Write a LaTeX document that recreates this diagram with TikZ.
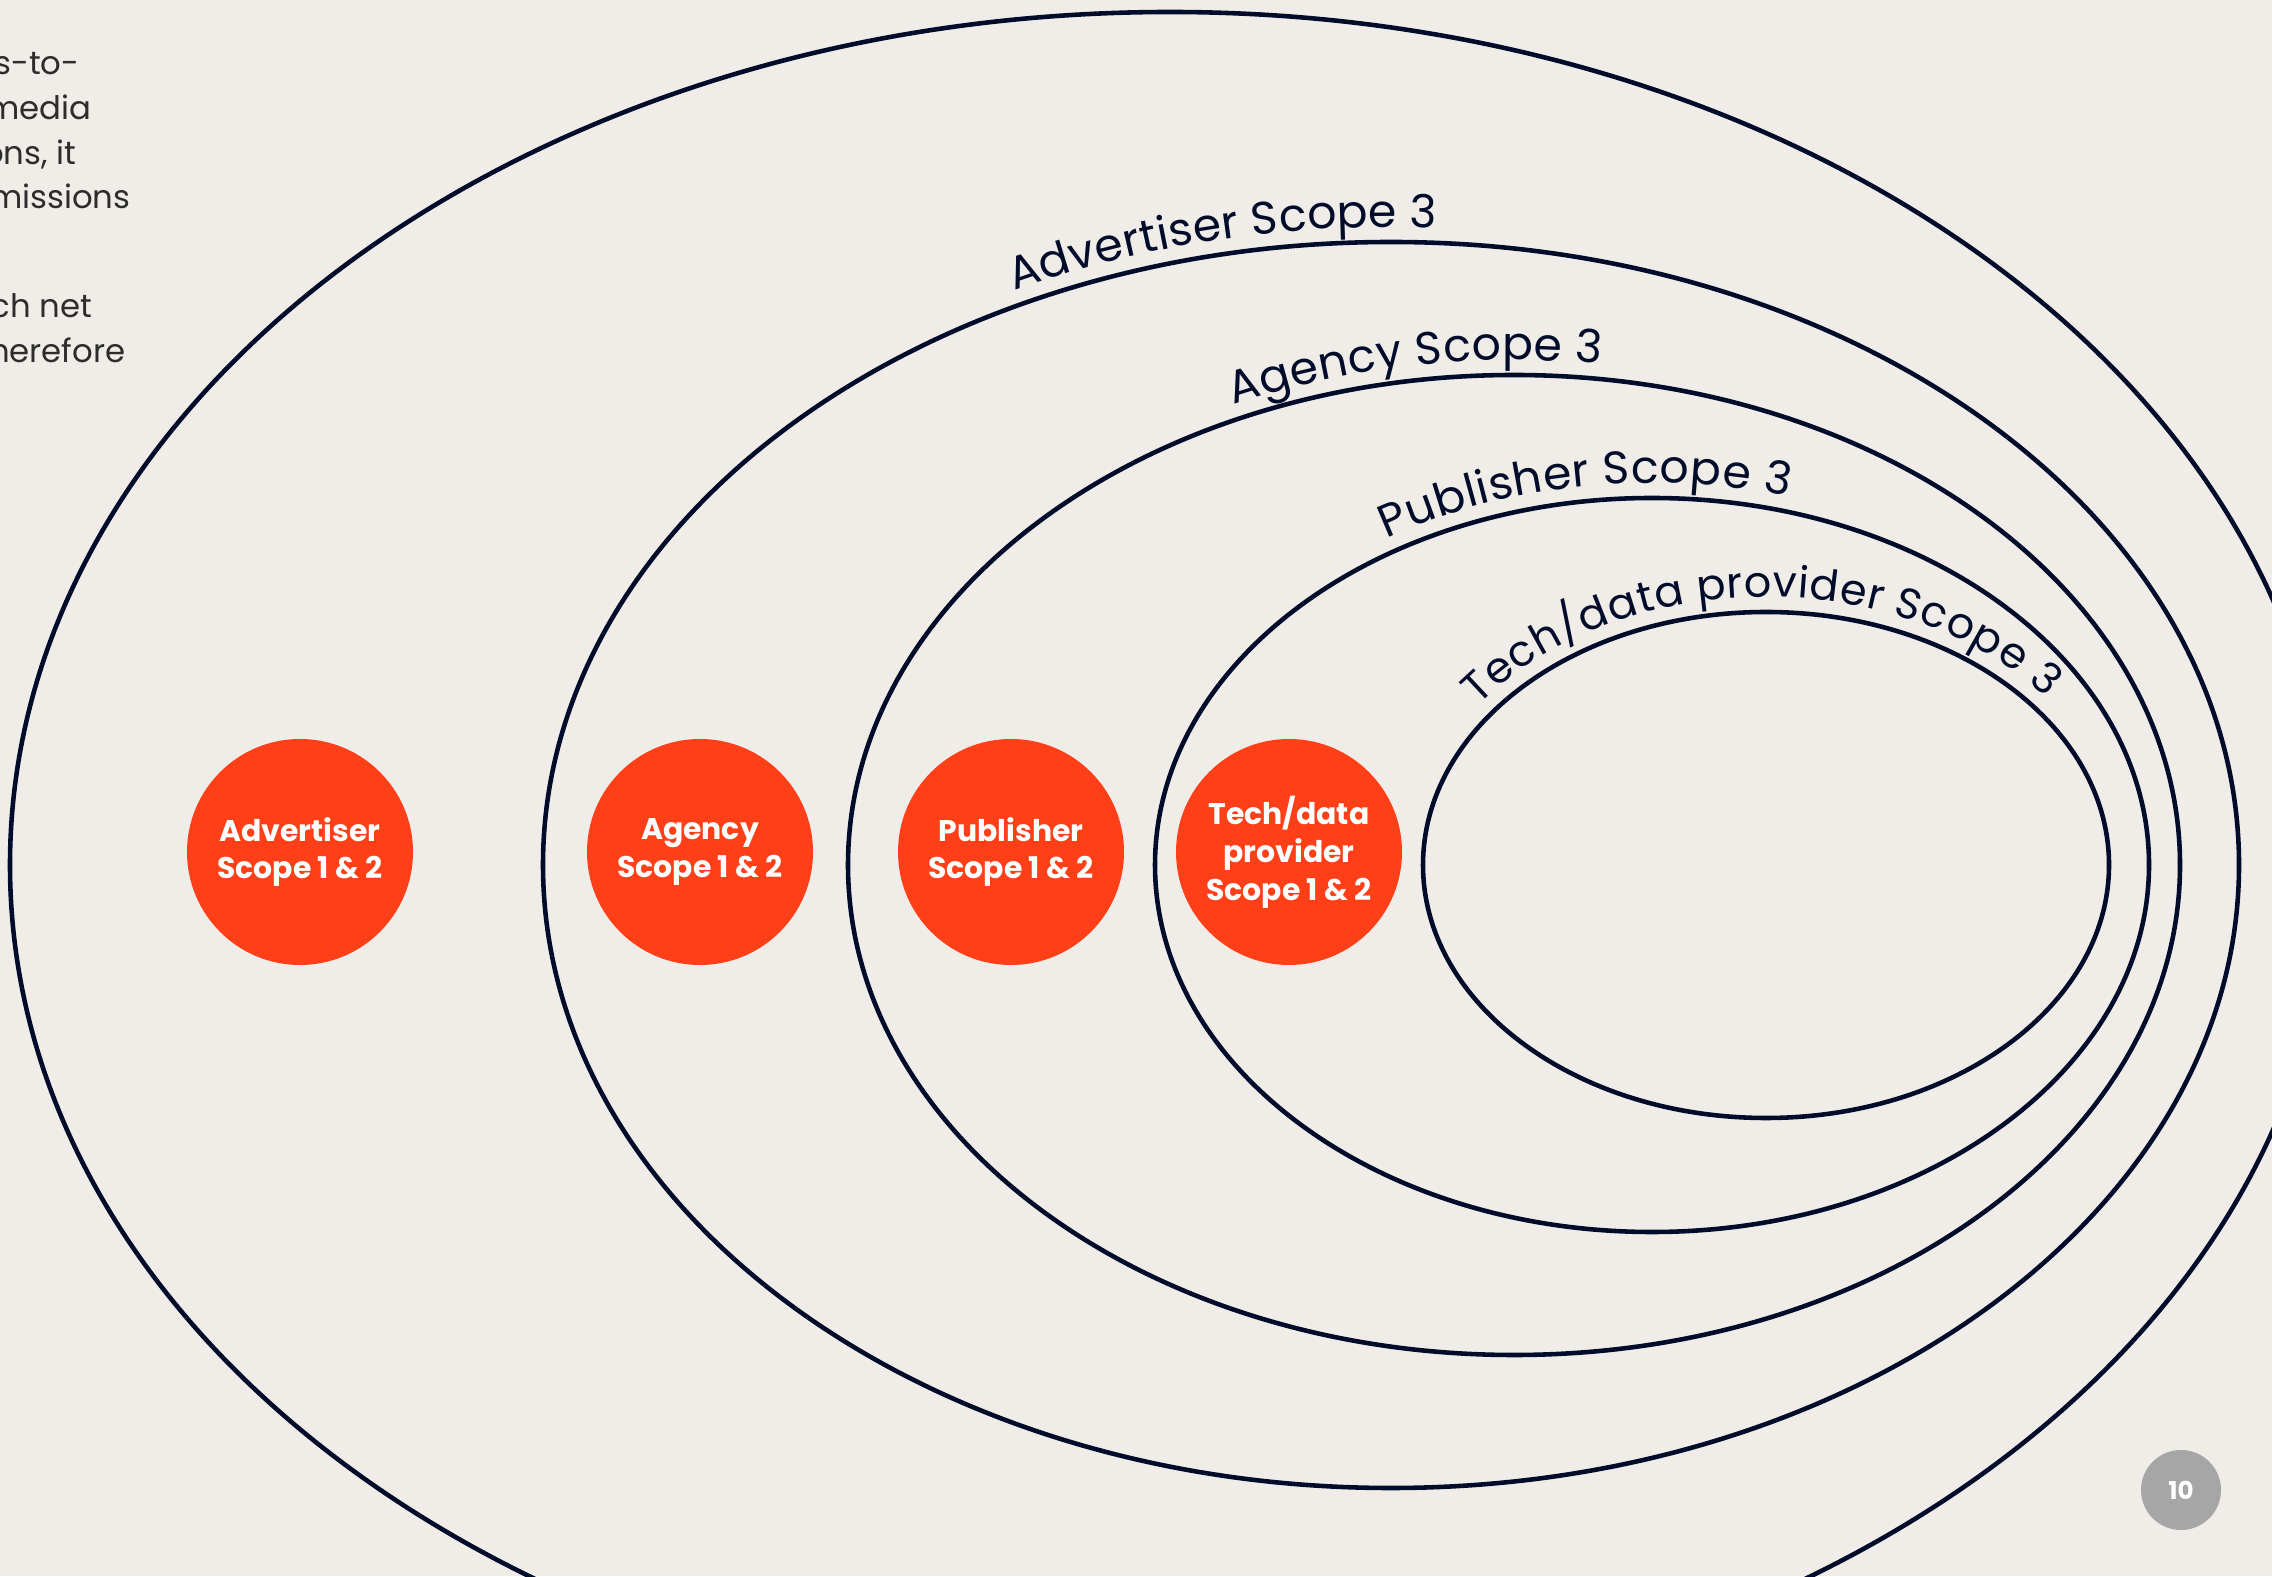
\documentclass[tikz,border=0pt]{standalone}
\usepackage{fontspec}
\setmainfont{Poppins}
\usetikzlibrary{decorations.text}

\definecolor{pagebg}{RGB}{240,237,232}
\definecolor{ink}{RGB}{1,11,42}
\definecolor{scopered}{RGB}{255,63,23}
\definecolor{bodygrey}{RGB}{45,45,45}
\definecolor{badgegrey}{RGB}{166,166,166}

\begin{document}
\begin{tikzpicture}[
  ring/.style={draw=ink, line width=1.3pt},
  scopedot/.style={circle, fill=scopered, minimum size=2.26cm, inner sep=0pt, text=white, align=center, font=\fontsize{8.5}{10.8}\selectfont\bfseries},
  bodyline/.style={anchor=base east, inner sep=0pt, text=bodygrey, font=\fontsize{9.2}{12}\selectfont},
  arclabel/.style={decorate, decoration={text along path, raise=0.15cm, text={|\fontsize{13}{16}\selectfont\color{ink}|#1}}},
  smallarclabel/.style={decorate, decoration={text along path, raise=0.15cm, text={|\fontsize{12.2}{15}\selectfont\color{ink}|#1}}},
  pagebadge/.style={circle, fill=badgegrey, minimum size=0.8cm, inner sep=0pt, text=white, font=\fontsize{7}{8}\selectfont\bfseries}
]

\useasboundingbox (0,0) rectangle (22.72,15.76);
\clip (0,0) rectangle (22.72,15.76);
\fill[pagebg] (0,0) rectangle (22.72,15.76);

% cut-off body text on the left
\foreach \txt/\xx/\yy [count=\i] in {ss-to-/0.80/15.01, media/0.92/14.56, {ons, it}/0.77/14.11, missions/1.31/13.67, ch net/0.93/12.58, herefore/1.26/12.13}
  \node[bodyline] (body\i) at (\xx,\yy) {\txt};

% nested scope rings
\draw[ring] (11.70,7.11) ellipse (11.60cm and 8.53cm);
\draw[ring] (13.91,7.11) ellipse (8.48cm and 6.23cm);
\draw[ring] (15.14,7.11) ellipse (6.66cm and 4.90cm);
\draw[ring] (16.52,7.11) ellipse (4.97cm and 3.67cm);
\draw[ring] (17.66,7.11) ellipse (3.43cm and 2.53cm);

% ring labels
\path[arclabel={Advertiser Scope 3}] ([shift={(13.91,7.11)}]116:8.48cm and 6.23cm) arc[start angle=116, end angle=50, x radius=8.48cm, y radius=6.23cm];
\path[arclabel={Agency Scope 3}] ([shift={(15.14,7.11)}]114.5:6.66cm and 4.90cm) arc[start angle=114.5, end angle=40, x radius=6.66cm, y radius=4.90cm];
\path[arclabel={Publisher Scope 3}] ([shift={(16.52,7.11)}]121.5:4.97cm and 3.67cm) arc[start angle=121.5, end angle=30, x radius=4.97cm, y radius=3.67cm];
\path[smallarclabel={Tech/data provider Scope 3}] ([shift={(17.66,7.11)}]144:3.43cm and 2.53cm) arc[start angle=144, end angle=10, x radius=3.43cm, y radius=2.53cm];

% scope 1 & 2 dots
\node[scopedot] (adv) at (3.00,7.24) {Advertiser\\Scope 1 \& 2};
\node[scopedot] (agency) at (7.00,7.24) {Agency\\Scope 1 \& 2};
\node[scopedot] (pub) at (10.11,7.24) {Publisher\\Scope 1 \& 2};
\node[scopedot] (tech) at (12.89,7.24) {Tech/data\\provider\\Scope 1 \& 2};

\node[pagebadge] (pagenum) at (21.81,0.86) {10};
\end{tikzpicture}
\end{document}
